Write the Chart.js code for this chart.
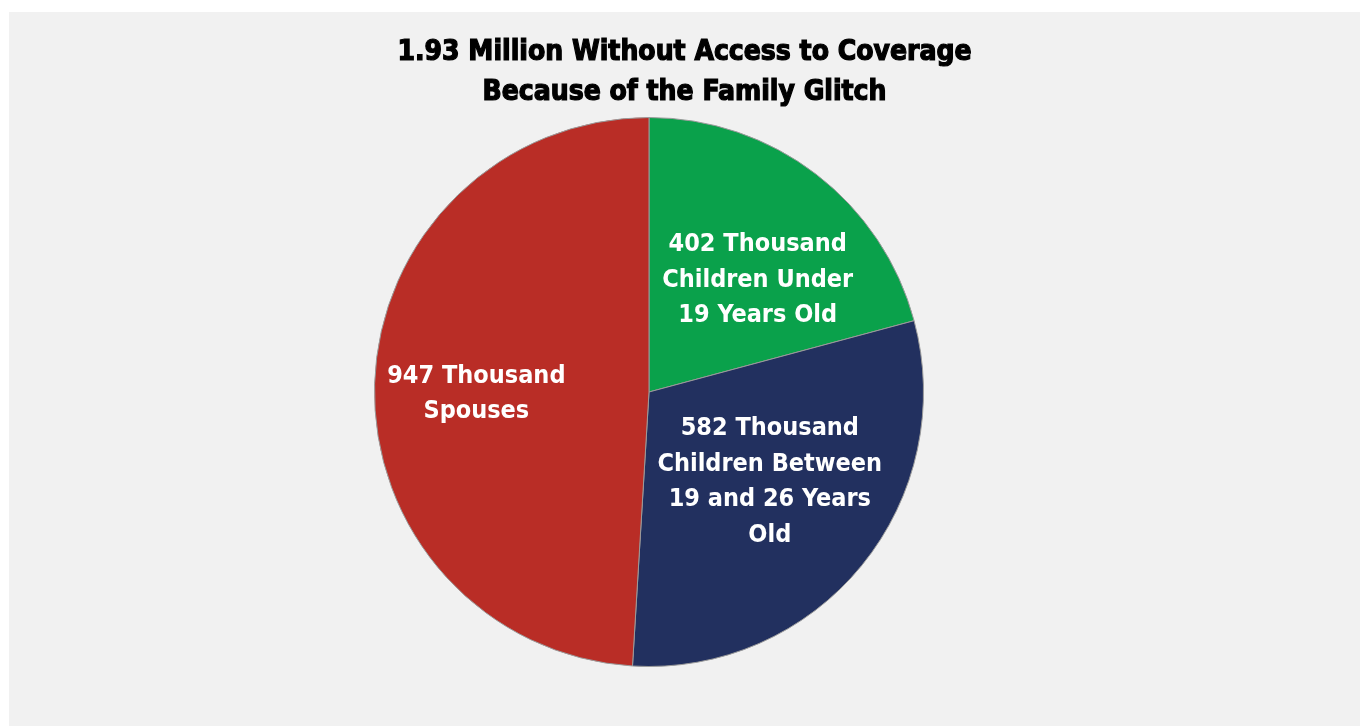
<!DOCTYPE html>
<html>
<head>
<meta charset="utf-8">
<script src="https://cdn.jsdelivr.net/npm/chart.js@4.4.0/dist/chart.umd.min.js"></script>
<style>
  html, body { margin: 0; padding: 0; background: #ffffff; }
  #panel {
    position: absolute; left: 9px; top: 12px;
    width: 1351px; height: 714px;
    background: #f1f1f1;
  }
</style>
</head>
<body>
<div id="panel"><canvas id="pieChart" width="1351" height="714"></canvas></div>
<script>
// chart data
const titleLines = ["1.93 Million Without Access to Coverage", "Because of the Family Glitch"];
const categories = ["Children Under 19", "Children 19 to 26", "Spouses"];
const values = [402, 582, 947];
const labelLines = [
    ["402 Thousand", "Children Under", "19 Years Old"],
    ["582 Thousand", "Children Between", "19 and 26 Years", "Old"],
    ["947 Thousand", "Spouses"]
];
const sliceColors = ["#0aa14b", "#22305f", "#b92d26"];

// where each label sits, as a fraction of the radius from the pie centre
const labelOffsets = [[0.396, -0.407], [0.44, 0.327], [-0.629, 0.007]];

const titlePlugin = {
    id: "titleText",
    afterDraw(chart) {
        const ctx = chart.ctx;
        ctx.save();
        ctx.fillStyle = "#000000";
        ctx.strokeStyle = "#000000";
        ctx.lineWidth = 1.2;
        ctx.font = "bold 28px 'DejaVu Sans Condensed', 'DejaVu Sans', sans-serif";
        ctx.textAlign = "center";
        ctx.textBaseline = "middle";
        titleLines.forEach((line, i) => {
            ctx.fillText(line, chart.width / 2, 41 + i * 40);
            ctx.strokeText(line, chart.width / 2, 41 + i * 40);
        });
        ctx.restore();
    }
};

const labelPlugin = {
    id: "sliceLabels",
    afterDatasetsDraw(chart) {
        const ctx = chart.ctx;
        const arcs = chart.getDatasetMeta(0).data;
        ctx.save();
        ctx.fillStyle = "#ffffff";
        ctx.font = "bold 25px 'DejaVu Sans Condensed', 'Liberation Sans Narrow', sans-serif";
        ctx.textAlign = "center";
        ctx.textBaseline = "middle";
        arcs.forEach((arc, i) => {
            const r = arc.outerRadius;
            const cx = arc.x + labelOffsets[i][0] * r;
            const cy = arc.y + labelOffsets[i][1] * r;
            const lines = labelLines[i];
            const lh = 35.5;
            const top = cy - (lines.length - 1) * lh / 2;
            lines.forEach((t, j) => ctx.fillText(t, cx, top + j * lh));
        });
        ctx.restore();
    }
};

new Chart(document.getElementById("pieChart"), {
    type: "pie",
    data: {
        labels: categories,
        datasets: [{
            data: values,
            backgroundColor: sliceColors,
            borderColor: "#9a9a9a",
            borderWidth: 1
        }]
    },
    options: {
        responsive: false,
        animation: false,
        layout: {
            padding: { top: 105, bottom: 59, left: 0, right: 71 }
        },
        plugins: {
            legend: { display: false },
            title: { display: false },
            tooltip: { enabled: false }
        }
    },
    plugins: [titlePlugin, labelPlugin]
});
</script>
</body>
</html>
